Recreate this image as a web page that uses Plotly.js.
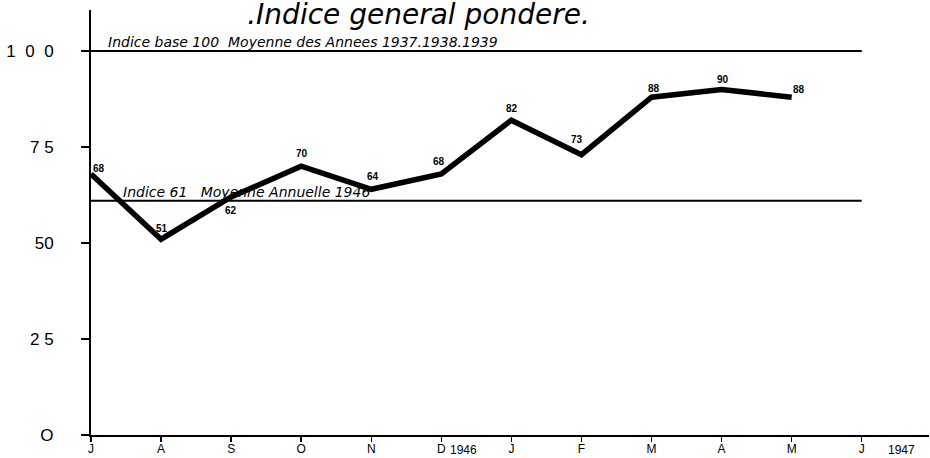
<!DOCTYPE html>
<html><head><meta charset="utf-8">
<script src="https://cdn.plot.ly/plotly-3.0.1.min.js"></script>
<style>body{margin:0;background:#fff}#c{width:930px;height:458px}</style>
</head><body><div id="c"></div>
<script>
const months = ["J","A","S","O","N","D","J","F","M","A","M","J"];
const monthIdx = [0,1,2,3,4,5,6,7,8,9,10,11];
const values = [68,51,62,70,64,68,82,73,88,90,88];
const yTickVals = [0,25,50,75,100];
const yTickText = ["O","2 5","50","7 5","1  0  0"];
const refLevels = [100,61];
const refLabels = ["Indice base 100  Moyenne des Annees 1937.1938.1939","Indice 61   Moyenne Annuelle 1946"];
const yearLabels = ["1946","1947"];
const yearAt = [5,11];

const F = "Liberation Sans, DejaVu Sans, sans-serif";
const FD = "DejaVu Sans, sans-serif";
// label offsets (style only)
const lblShift = [[8,5],[1,11],[0,-14],[1,13],[2,13],[-2,12],[1,12],[-4,15],[2,9],[1,10],[7,8]];

const trace = {
  x: monthIdx.slice(0, values.length), y: values,
  mode: "lines", type: "scatter",
  line: {color:"#000", width:5.5},
  hoverinfo:"none", showlegend:false
};

const shapes = refLevels.map(v => ({type:"line", xref:"x", yref:"y", x0:0, x1:11, y0:v, y1:v, line:{color:"#000", width:2}}));
const annotations = [];
values.forEach((v,i)=>annotations.push({xref:"x", yref:"y", x:monthIdx[i], y:v, text:String(v), showarrow:false, xanchor:"center", yanchor:"middle", xshift:lblShift[i][0], yshift:lblShift[i][1], font:{family:F, size:10, weight:"bold", color:"#000"}}));
refLevels.forEach((v,i)=>annotations.push({xref:"x", yref:"y", x:0, y:v, text:refLabels[i], showarrow:false, xanchor:"left", yanchor:"bottom", xshift: i===0?15:30, yshift:-1, font:{family:FD, size:14, style:"italic", color:"#000"}}));
yearLabels.forEach((t,i)=>annotations.push({xref:"x", yref:"paper", x:yearAt[i], y:0, text:t, showarrow:false, xanchor:"left", yanchor:"top", xshift: i===0?7:24, yshift:-6, font:{family:F, size:12, color:"#000"}}));

const layout = {
  width:930, height:458,
  margin:{l:91, r:1, t:10, b:23},
  paper_bgcolor:"#fff", plot_bgcolor:"#fff",
  title:{text:".Indice general pondere.", x:0.45, xanchor:"center", y:0.99, yanchor:"top", yref:"container", pad:{t:0}, font:{family:FD, size:28, style:"italic", color:"#000"}},
  xaxis:{range:[0,11.96], tickvals:monthIdx, ticktext:months, showgrid:false, zeroline:false, showline:true, linewidth:2, linecolor:"#000", ticks:"outside", ticklen:5, tickwidth:1.5, tickcolor:"#000", ticklabelstandoff:-3, tickfont:{family:F, size:12, color:"#000"}},
  yaxis:{range:[0,110.7], tickvals:yTickVals, ticktext:yTickText, showgrid:false, zeroline:false, showline:true, linewidth:2, linecolor:"#000", ticks:"outside", ticklen:8, tickwidth:1.5, tickcolor:"#000", ticklabelstandoff:24, tickfont:{family:F, size:17, color:"#000"}},
  shapes, annotations
};
Plotly.newPlot("c", [trace], layout, {displayModeBar:false, staticPlot:true});
</script></body></html>
